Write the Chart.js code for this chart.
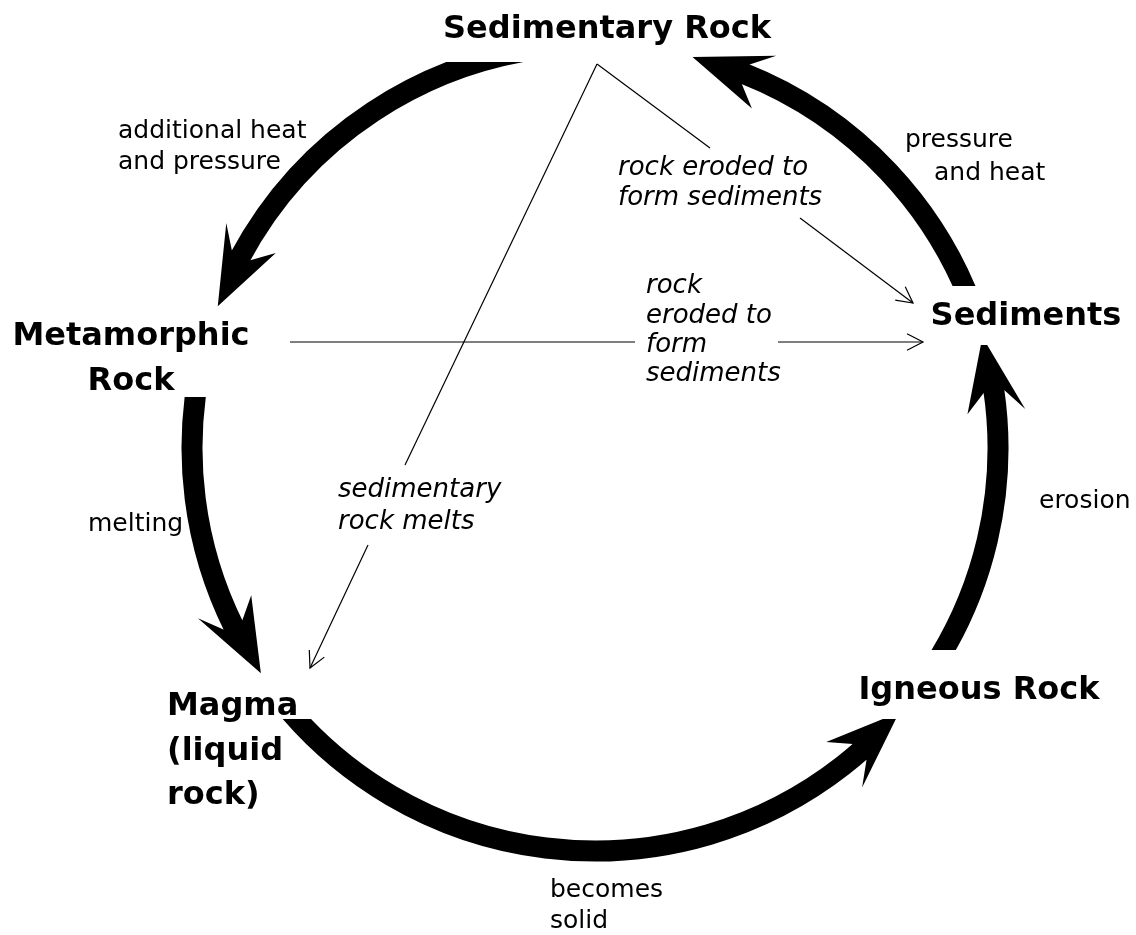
<!DOCTYPE html>
<html><head><meta charset="utf-8">
<script src="https://cdn.jsdelivr.net/npm/chart.js@4"></script>
<style>html,body{margin:0;padding:0;background:#fff}canvas{display:block}</style>
</head><body>
<canvas id="c" width="1136" height="935"></canvas>
<script>
// ---- cycle geometry (diagram units) ----
const circleCenter = [595, 448];
const circleRadius = 403;
// thick cycle arrows: Sedimentary->Metamorphic, Metamorphic->Magma, Magma->Igneous, Igneous->Sediments, Sediments->Sedimentary
const arcFromDeg = [95, 168, 218, -35, 18];
const arcToDeg = [159.4, 214, 319, 16, 76];
const arcClipTop = [62, 397, 719, 345, 0];
const arcClipBottom = [935, 935, 935, 650, 286];

// ---- stage labels ----
const stageLines = [['Sedimentary Rock'], ['Metamorphic', 'Rock'], ['Sediments'], ['Igneous Rock'], ['Magma', '(liquid', 'rock)']];
const stageX = [607, 131, 1026, 979, 167];
const stageY = [38, 345, 325, 699, 715];
const stageAlign = ['center', 'center', 'center', 'center', 'left'];

// ---- process labels (upright) ----
const processText = ['additional heat', 'and pressure', 'pressure', 'and heat', 'melting', 'erosion', 'becomes', 'solid'];
const processX = [118, 118, 905, 934, 88, 1039, 550, 550];
const processY = [138, 169, 147, 180, 531, 508, 897, 928];

// ---- shortcut labels (italic) ----
const shortcutText = ['rock eroded to', 'form sediments', 'rock', 'eroded to', 'form', 'sediments', 'sedimentary', 'rock melts'];
const shortcutX = [618, 618, 646, 646, 646, 646, 338, 338];
const shortcutY = [175, 205, 293, 323, 352, 381, 497, 529];

// ---- thin shortcut arrows ----
const linkFromX = [597, 800, 597, 368, 290, 778];
const linkFromY = [64, 218, 64, 545, 342, 342];
const linkToX = [710, 913, 405, 310, 635, 923];
const linkToY = [148, 303, 465, 668, 342, 342];
const linkArrow = [false, true, false, true, false, true];

const datasets = linkFromX.map((_, i) => ({
  data: [{x: linkFromX[i], y: linkFromY[i]}, {x: linkToX[i], y: linkToY[i]}],
  showLine: true,
  borderColor: '#000',
  borderWidth: 1.2,
  pointRadius: 0,
  arrow: linkArrow[i]
}));

const rockCyclePlugin = {
  id: 'rockCycle',
  afterDatasetsDraw(chart) {
    const {ctx, scales: {x, y}} = chart;
    const px = v => x.getPixelForValue(v), py = v => y.getPixelForValue(v);
    ctx.save();
    ctx.fillStyle = '#000';
    ctx.strokeStyle = '#000';

    // thin arrowheads
    chart.data.datasets.forEach(ds => {
      if (!ds.arrow) return;
      const p0 = ds.data[ds.data.length - 2], p1 = ds.data[ds.data.length - 1];
      const x0 = px(p0.x), y0 = py(p0.y), x1 = px(p1.x), y1 = py(p1.y);
      const ang = Math.atan2(y1 - y0, x1 - x0);
      const L = 18, spread = 0.48;
      ctx.beginPath();
      ctx.lineWidth = 1.2;
      ctx.moveTo(x1 - L * Math.cos(ang - spread), y1 - L * Math.sin(ang - spread));
      ctx.lineTo(x1, y1);
      ctx.lineTo(x1 - L * Math.cos(ang + spread), y1 - L * Math.sin(ang + spread));
      ctx.stroke();
    });

    // thick cycle arcs
    const cx = px(circleCenter[0]), cy = py(circleCenter[1]);
    const R = px(circleCenter[0] + circleRadius) - cx;
    const band = 21, headLen = 68, headHalf = 29, barb = 8, neck = 12;
    const rad = d => d * Math.PI / 180;
    const pt = (a, r) => [cx + r * Math.cos(a), cy - r * Math.sin(a)];
    for (let i = 0; i < arcFromDeg.length; i++) {
      const a0 = rad(arcFromDeg[i]), at = rad(arcToDeg[i]);
      const ab = at - headLen / R;
      ctx.save();
      const top = py(arcClipTop[i]), bot = py(arcClipBottom[i]);
      ctx.beginPath();
      ctx.rect(0, top, chart.width, bot - top);
      ctx.clip();
      ctx.beginPath();
      ctx.lineWidth = band;
      ctx.lineCap = 'butt';
      ctx.arc(cx, cy, R, -a0, -(ab + (neck + 3) / R), true);
      ctx.stroke();
      const tip = pt(at, R);
      const w1 = pt(ab - barb / R, R + headHalf);
      const n1 = pt(ab + neck / R, R + band / 2);
      const n2 = pt(ab + neck / R, R - band / 2);
      const w2 = pt(ab - barb / R, R - headHalf);
      ctx.beginPath();
      ctx.moveTo(tip[0], tip[1]);
      ctx.lineTo(w1[0], w1[1]);
      ctx.lineTo(n1[0], n1[1]);
      ctx.lineTo(n2[0], n2[1]);
      ctx.lineTo(w2[0], w2[1]);
      ctx.closePath();
      ctx.fill();
      ctx.restore();
    }

    // texts
    ctx.textBaseline = 'alphabetic';
    ctx.font = 'bold 32px "DejaVu Sans"';
    stageLines.forEach((lines, i) => {
      ctx.textAlign = stageAlign[i];
      lines.forEach((t, j) => ctx.fillText(t, px(stageX[i]), py(stageY[i] + j * 44.5)));
    });
    ctx.textAlign = 'left';
    ctx.font = '25px "DejaVu Sans"';
    processText.forEach((t, i) => ctx.fillText(t, px(processX[i]), py(processY[i])));
    ctx.font = 'italic 26px "DejaVu Sans"';
    shortcutText.forEach((t, i) => ctx.fillText(t, px(shortcutX[i]), py(shortcutY[i])));
    ctx.restore();
  }
};

new Chart(document.getElementById('c'), {
  type: 'scatter',
  data: {datasets},
  options: {
    responsive: false,
    animation: false,
    layout: {padding: 0},
    plugins: {legend: {display: false}, tooltip: {enabled: false}},
    scales: {
      x: {type: 'linear', min: 0, max: 1136, display: false},
      y: {type: 'linear', min: 0, max: 935, reverse: true, display: false}
    }
  },
  plugins: [rockCyclePlugin]
});
</script></body></html>
